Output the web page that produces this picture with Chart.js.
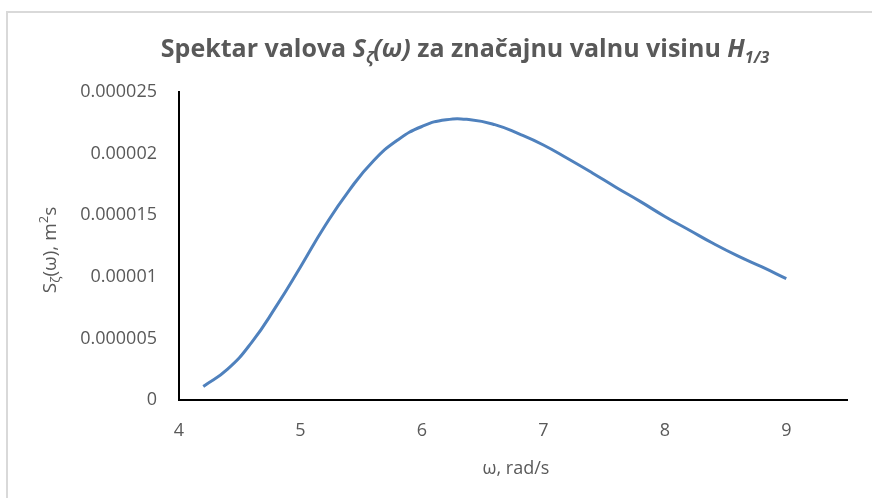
<!DOCTYPE html>
<html>
<head>
<meta charset="utf-8">
<script src="https://cdn.jsdelivr.net/npm/chart.js@4"></script>
<style>
html, body { margin: 0; padding: 0; background: #fff; }
</style>
</head>
<body>
<canvas id="spectrum" width="872" height="498"></canvas>
<script>
// omega, rad/s
const omega = [4.2, 4.4, 4.6, 4.8, 5.0, 5.2, 5.4, 5.6, 5.8, 6.0, 6.2, 6.4, 6.6,
    6.8, 7.0, 7.2, 7.4, 7.6, 7.8, 8.0, 8.2, 8.4, 8.6, 8.8, 9.0];
// S(omega), m^2 s
const spectrum = [1.1e-6, 2.5e-6, 4.7e-6, 7.6e-6, 10.8e-6, 14.1e-6, 17.0e-6, 19.4e-6,
    21.1e-6, 22.2e-6, 22.75e-6, 22.75e-6, 22.35e-6, 21.6e-6, 20.7e-6, 19.6e-6,
    18.45e-6, 17.25e-6, 16.1e-6, 14.9e-6, 13.8e-6, 12.7e-6, 11.7e-6, 10.8e-6, 9.85e-6];
const xTicks = [4, 5, 6, 7, 8, 9];
const yTicks = [0, 0.000005, 0.00001, 0.000015, 0.00002, 0.000025];

const textColor = '#595959';
const fontFamily = '"Open Sans", sans-serif';

// draw a row of text pieces with different styles, centred on x
const drawRich = (ctx, parts, x, y) => {
    let total = 0;
    parts.forEach(p => {
        ctx.font = p.font;
        p.w = ctx.measureText(p.text).width;
        total += p.w;
    });
    let cx = x - total / 2;
    parts.forEach(p => {
        ctx.font = p.font;
        ctx.fillText(p.text, cx, y + (p.dy || 0));
        cx += p.w;
    });
};

const decorations = {
    id: 'decorations',
    beforeDraw(chart) {
        const ctx = chart.ctx;
        ctx.save();
        ctx.strokeStyle = '#d9d9d9';
        ctx.lineWidth = 2;
        ctx.strokeRect(7, 12, 1000, 600);
        ctx.restore();
    },
    afterDraw(chart) {
        const ctx = chart.ctx;
        ctx.save();
        ctx.fillStyle = textColor;
        ctx.textBaseline = 'alphabetic';
        ctx.textAlign = 'left';

        const b = 'bold 25px ' + fontFamily;
        const bi = 'italic bold 25px ' + fontFamily;
        const bis = 'italic bold 16px ' + fontFamily;
        drawRich(ctx, [
            { text: 'Spektar valova ', font: b },
            { text: 'S', font: bi },
            { text: 'ζ', font: bis, dy: 6 },
            { text: '(ω)', font: bi },
            { text: ' za značajnu valnu visinu ', font: b },
            { text: 'H', font: bi },
            { text: '1/3', font: bis, dy: 6 },
        ], 465, 57);

        // y axis title, rotated
        ctx.save();
        ctx.translate(56, 250);
        ctx.rotate(-Math.PI / 2);
        const r = '19px ' + fontFamily;
        const s = '13px ' + fontFamily;
        drawRich(ctx, [
            { text: 'S', font: r },
            { text: 'ζ', font: s, dy: 4 },
            { text: '(ω), m', font: r },
            { text: '2', font: s, dy: -8 },
            { text: 's', font: r },
        ], 0, 0);
        ctx.restore();

        // x axis title
        ctx.font = '18px ' + fontFamily;
        ctx.textAlign = 'center';
        ctx.fillText('ω, rad/s', 516, 474);
        ctx.restore();
    }
};

const ctx = document.querySelector('#spectrum');

new Chart(ctx, {
    type: 'scatter',
    data: {
        datasets: [{
            label: 'S(ω)',
            data: omega.map((w, i) => ({ x: w, y: spectrum[i] })),
            showLine: true,
            borderColor: '#4f81bd',
            borderWidth: 3,
            pointRadius: 0,
            tension: 0.5,
        }],
    },
    options: {
        responsive: false,
        animation: false,
        layout: {
            padding: { top: 92, right: 25, bottom: 0, left: 0 },
        },
        plugins: {
            legend: { display: false },
            title: { display: false },
            tooltip: { enabled: false },
        },
        scales: {
            x: {
                type: 'linear',
                min: 4,
                max: 9.5,
                afterBuildTicks: scale => { scale.ticks = xTicks.map(v => ({ value: v })); },
                afterFit: scale => { scale.height = 98; },
                grid: { display: false, drawTicks: false },
                border: { display: true, color: '#000', width: 2 },
                ticks: {
                    color: textColor,
                    font: { family: fontFamily, size: 18 },
                    padding: 20,
                    maxRotation: 0,
                },
            },
            y: {
                min: 0,
                max: 0.000025,
                afterBuildTicks: scale => { scale.ticks = yTicks.map(v => ({ value: v })); },
                afterFit: scale => { scale.width = 179; },
                grid: { display: false, drawTicks: false },
                border: { display: true, color: '#000', width: 2 },
                ticks: {
                    color: textColor,
                    font: { family: fontFamily, size: 18 },
                    padding: 22,
                    callback: v => v.toFixed(6).replace(/\.?0+$/, ''),
                },
            },
        },
    },
    plugins: [decorations],
});
</script>
</body>
</html>
